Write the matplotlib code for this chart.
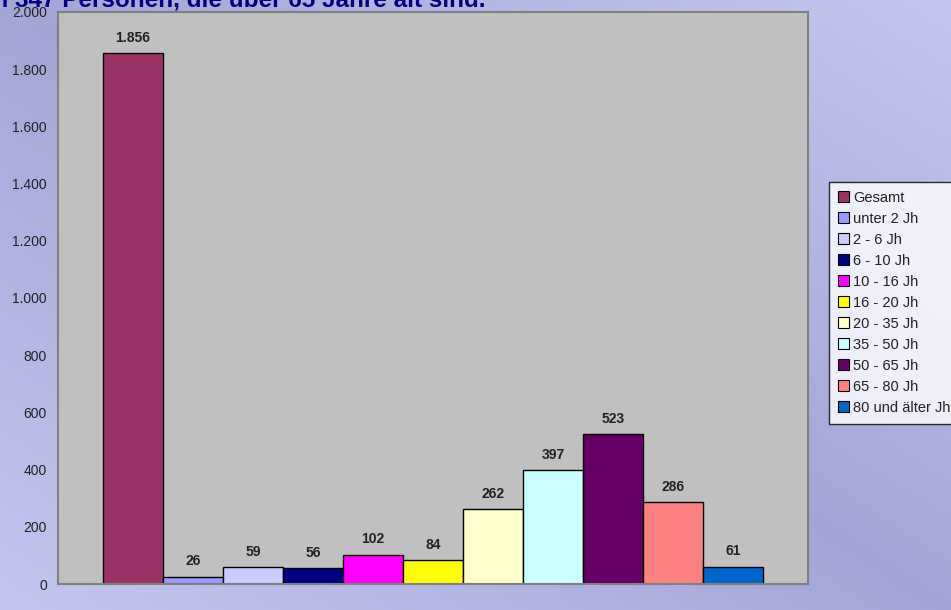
import matplotlib.pyplot as plt
import numpy as np
from matplotlib.patches import Patch

plt.rcParams['font.family'] = ['Liberation Sans', 'DejaVu Sans']

labels = ["Gesamt", "unter 2 Jh", "2 - 6 Jh", "6 - 10 Jh", "10 - 16 Jh", "16 - 20 Jh",
          "20 - 35 Jh", "35 - 50 Jh", "50 - 65 Jh", "65 - 80 Jh", "80 und älter Jh"]
values = [1856, 26, 59, 56, 102, 84, 262, 397, 523, 286, 61]
colors = ["#993366", "#9999FF", "#CCCCFF", "#000080", "#FF00FF", "#FFFF00",
          "#FFFFCC", "#CCFFFF", "#660066", "#FF8080", "#0066CC"]
yticks = [0, 200, 400, 600, 800, 1000, 1200, 1400, 1600, 1800, 2000]


def de_fmt(v):
    return f"{v:,}".replace(",", ".")


fig = plt.figure(figsize=(9.51, 6.10), dpi=100)

# lavender gradient background
bg = fig.add_axes([0, 0, 1, 1], zorder=-10)
gx, gy = np.meshgrid(np.linspace(0, 1, 200), np.linspace(0, 1, 200))
d = np.abs((gx + (1 - gy)) / 2 - 0.5) * 2
c_mid = np.array([0.64, 0.65, 0.84])
c_edge = np.array([0.77, 0.78, 0.94])
img = c_mid[None, None, :] + (c_edge - c_mid)[None, None, :] * d[:, :, None]
bg.imshow(img, aspect='auto', extent=[0, 1, 0, 1], origin='upper')
bg.set_axis_off()

ax = fig.add_axes([58 / 951, 26 / 610, 750 / 951, 572 / 610])
ax.set_facecolor("#C0C0C0")
x = np.arange(len(values))
bars = ax.bar(x, values, width=1.0, color=colors, edgecolor="black", linewidth=1.0)

for xi, v in zip(x, values):
    ax.annotate(de_fmt(v), (xi, v), xytext=(0, 6), textcoords='offset points',
                ha='center', va='bottom', fontsize=10, fontweight='bold', color="#222222")

ax.set_xlim(-1.25, 11.25)
ax.set_ylim(0, 2000)
ax.set_xticks([])
ax.set_yticks(yticks)
ax.set_yticklabels([de_fmt(t) for t in yticks], fontsize=10, color="#222222")
ax.tick_params(axis='y', length=0, pad=8)
for s in ax.spines.values():
    s.set_color("#808080")
    s.set_linewidth(1.5)

handles = [Patch(facecolor=c, edgecolor="black", linewidth=0.8) for c in colors]
leg = fig.legend(handles, labels, loc='upper left', bbox_to_anchor=(829 / 951, 1 - 182 / 610),
                 fontsize=10.5, frameon=True, fancybox=False, edgecolor="black",
                 handlelength=0.75, handleheight=0.75, handletextpad=0.3,
                 labelspacing=0.48, borderpad=0.6, borderaxespad=0)
leg.get_frame().set_facecolor("white")
leg.get_frame().set_linewidth(1.0)
for t in leg.get_texts():
    t.set_color("#222222")

fig.text(485 / 951, 1 - 6 / 610, "von 347 Personen, die über 65 Jahre alt sind.",
         ha='right', va='baseline', fontsize=17.5, fontweight='bold', color="#000080")

fig.savefig("out.png", dpi=100)
